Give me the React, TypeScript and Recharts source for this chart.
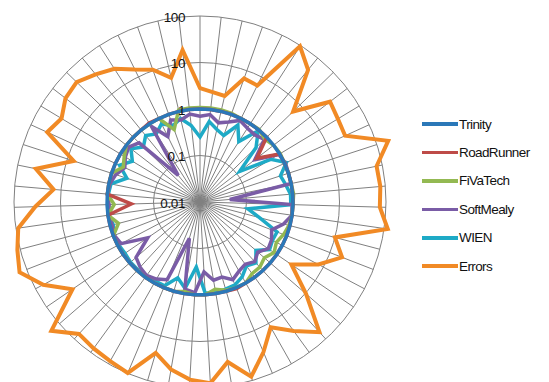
import {
  Legend,
  PolarAngleAxis,
  PolarGrid,
  PolarRadiusAxis,
  Radar,
  RadarChart,
} from 'recharts';

// one spoke per test site, first one at 12 o'clock, clockwise
const sites = [
  's01', 's02', 's03', 's04', 's05', 's06', 's07', 's08', 's09', 's10', 's11',
  's12', 's13', 's14', 's15', 's16', 's17', 's18', 's19', 's20', 's21', 's22',
  's23', 's24', 's25', 's26', 's27', 's28', 's29', 's30', 's31', 's32', 's33',
  's34', 's35', 's36', 's37', 's38', 's39', 's40', 's41', 's42', 's43', 's44',
  's45', 's46', 's47', 's48', 's49', 's50', 's51', 's52', 's53', 's54', 's55',
];

const trinity = [
  1, 1, 1, 1, 1, 1, 1, 1, 1, 1, 1,
  1, 1, 1, 1, 1, 1, 1, 1, 1, 1, 1,
  1, 1, 1, 1, 1, 1, 1, 1, 1, 1, 1,
  1, 1, 1, 1, 1, 1, 1, 1, 1, 1, 1,
  1, 1, 1, 1, 1, 1, 1, 1, 1, 1, 1,
];

const roadRunner = [
  1, 1, 1, 1, 1, 1, 1, 1, 0.35, 1, 1,
  1, 1, 1, 1, 1, 1, 1, 1, 1, 1, 1,
  1, 1, 1.05, 1, 1, 1, 1, 1, 1, 1, 1,
  1, 1, 1, 1, 1, 1, 1, 1, 0.3, 1, 1,
  1, 1, 1, 1, 1, 1, 1.05, 1, 1, 1, 1,
];

const fiVaTech = [
  1.08, 1.08, 1.08, 1.05, 1, 1, 1.03, 0.87, 1, 1.04, 1,
  1, 1, 1.05, 1, 1, 0.95, 0.85, 0.72, 0.85, 0.68, 0.8,
  0.8, 1, 1, 0.95, 0.8, 1, 1, 0.9, 1, 1, 1,
  1, 1, 1, 1, 1, 1, 0.65, 1, 0.7, 1, 1,
  1, 0.65, 0.8, 1, 1, 1, 1, 1, 0.45, 1.08, 1.08,
];

const softMealy = [
  0.7, 0.78, 0.56, 0.67, 0.9, 0.77, 0.73, 0.85, 0.31, 0.95, 1.05,
  1, 1, 0.044, 0.95, 1, 0.72, 0.45, 0.55, 0.6, 0.44, 0.55,
  0.45, 0.51, 0.65, 0.48, 0.51, 0.32, 0.9, 0.8, 0.065, 0.65, 0.8,
  0.9, 0.8, 0.66, 0.23, 0.83, 0.95, 0.9, 0.95, 0.9, 1, 0.95,
  0.8, 0.6, 0.75, 0.86, 0.67, 0.055, 0.85, 0.37, 0.75, 0.65, 0.8,
];

const wien = [
  0.25, 0.55, 0.4, 0.33, 0.7, 0.35, 0.95, 0.48, 0.12, 0.6, 1.1,
  0.66, 0.76, 0.9, 0.9, 0.11, 0.21, 0.6, 0.58, 0.65, 0.39, 0.6,
  0.5, 0.7, 0.86, 0.9, 0.95, 0.92, 0.25, 0.77, 0.5, 0.9, 0.9,
  0.95, 0.95, 0.95, 0.9, 0.95, 0.95, 0.85, 0.95, 0.95, 0.95, 0.9,
  0.45, 0.8, 0.5, 0.75, 0.5, 0.7, 0.55, 0.75, 0.55, 0.7, 0.45,
];

const errors = [
  2.8, 2.4, 2.2, 6.6, 6.2, 95, 47, 6.2, 34, 29, 27,
  180, 75, 78, 74, 120, 10, 19, 7.6, 2.4, 10.4, 63,
  27, 12.4, 32, 82, 31, 80, 67, 45, 24, 98, 85,
  78, 71, 170, 21, 65, 146, 115, 89, 35, 14.5, 40,
  7.2, 41, 30, 45, 50, 35, 25.5, 15, 10.5, 5.5, 19.5,
];

const radiusTicks = [0.01, 0.1, 1, 10, 100];

// legend order; the radars are painted in reverse so Trinity ends up on top
const series = [
  { key: 'Trinity', values: trinity, color: '#2b78b8', width: 3.5 },
  { key: 'RoadRunner', values: roadRunner, color: '#be4b48', width: 3.5 },
  { key: 'FiVaTech', values: fiVaTech, color: '#93b952', width: 3.5 },
  { key: 'SoftMealy', values: softMealy, color: '#7a5ca6', width: 3.5 },
  { key: 'WIEN', values: wien, color: '#1eaac6', width: 3.5 },
  { key: 'Errors', values: errors, color: '#f18a25', width: 4 },
];

const data = sites.map((site, i) => {
  const row: Record<string, string | number> = { site };
  series.forEach((s) => {
    row[s.key] = s.values[i];
  });
  return row;
});

const RadiusTick = (props: any) => {
  const { x, y, payload } = props;
  return (
    <text
      x={x - 15}
      y={y + 1}
      textAnchor="end"
      dominantBaseline="central"
      fontSize={13.5}
      letterSpacing={-0.4}
      fill="#111"
    >
      {payload.value}
    </text>
  );
};

const LegendList = () => (
  <div>
    {series.map((s) => (
      <div key={s.key} style={{ display: 'flex', alignItems: 'center', height: 28.4 }}>
        <span
          style={{
            display: 'inline-block',
            width: 36,
            height: 3.5,
            background: s.color,
            marginRight: 1,
          }}
        />
        <span style={{ fontSize: 13.5, letterSpacing: -0.6, color: '#111' }}>{s.key}</span>
      </div>
    ))}
  </div>
);

export default function App() {
  return (
    <div
      style={{
        position: 'absolute',
        left: 0,
        top: 0,
        width: 549,
        height: 382,
        overflow: 'hidden',
        background: '#fff',
        fontFamily: '"Liberation Sans", Arial, sans-serif',
      }}
    >
      <RadarChart
        width={549}
        height={382}
        data={data}
        cx={200}
        cy={202}
        outerRadius={186}
        margin={{ top: 0, right: 0, bottom: 0, left: 0 }}
      >
        <PolarGrid gridType="circle" stroke="#808080" strokeWidth={1} />
        <PolarAngleAxis dataKey="site" tick={false} axisLine={false} tickLine={false} />
        <PolarRadiusAxis
          angle={90}
          scale="log"
          domain={[0.01, 100]}
          ticks={radiusTicks}
          allowDataOverflow
          axisLine={false}
          tickLine={false}
          tick={RadiusTick}
        />
        {[...series].reverse().map((s) => (
          <Radar
            key={s.key}
            name={s.key}
            dataKey={s.key}
            stroke={s.color}
            strokeWidth={s.width}
            fill="none"
            fillOpacity={0}
            dot={false}
            isAnimationActive={false}
          />
        ))}
        <Legend
          layout="vertical"
          verticalAlign="top"
          align="right"
          content={LegendList}
          wrapperStyle={{ left: 422, top: 110, width: 127 }}
        />
      </RadarChart>
    </div>
  );
}
